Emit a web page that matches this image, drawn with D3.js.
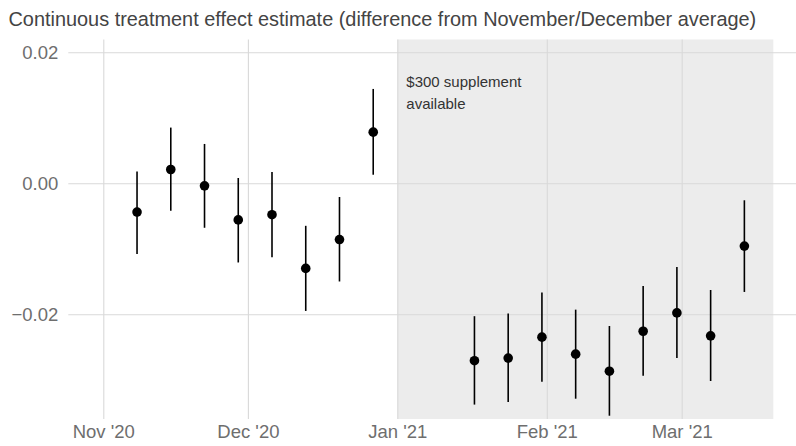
<!DOCTYPE html>
<html><head><meta charset="utf-8">
<script src="https://cdn.jsdelivr.net/npm/d3@7"></script>
<style>body{margin:0;background:#fff}svg{display:block}text{font-family:"Liberation Sans",Arial,sans-serif}</style>
</head><body><svg id="c" width="796" height="446"></svg>
<script>
const weeks = ["2020-11-08","2020-11-15","2020-11-22","2020-11-29","2020-12-06","2020-12-13","2020-12-20","2020-12-27",
  "2021-01-17","2021-01-24","2021-01-31","2021-02-07","2021-02-14","2021-02-21","2021-02-28","2021-03-07","2021-03-14"];
const estimate = [-0.0044,0.0021,-0.0004,-0.0056,-0.0048,-0.0130,-0.0086,0.0078,
  -0.0271,-0.0267,-0.0235,-0.0261,-0.0287,-0.0226,-0.0198,-0.0233,-0.0096];
const lower = [-0.0108,-0.0042,-0.0068,-0.0121,-0.0113,-0.0195,-0.0150,0.0013,
  -0.0338,-0.0334,-0.0303,-0.0329,-0.0355,-0.0294,-0.0267,-0.0302,-0.0166];
const upper = [0.0018,0.0085,0.0060,0.0008,0.0017,-0.0065,-0.0021,0.0144,
  -0.0203,-0.0199,-0.0167,-0.0193,-0.0218,-0.0157,-0.0128,-0.0163,-0.0026];
const xTicks = ["2020-11-01","2020-12-01","2021-01-01","2021-02-01","2021-03-01"];
const xTickLabels = ["Nov '20","Dec '20","Jan '21","Feb '21","Mar '21"];
const yTicks = [-0.02, 0.00, 0.02];
const shadeStart = "2021-01-01", shadeEnd = "2021-03-20";
const title = "Continuous treatment effect estimate (difference from November/December average)";
const annotation = ["$300 supplement", "available"];

const parse = d3.utcParse("%Y-%m-%d");
const DAY = 864e5;
const svg = d3.select("#c");
const L = 68.3, R = 796, T = 39.5, B = 419;
const x = d3.scaleUtc()
  .domain([new Date(parse("2020-11-01") - 7.26*DAY), new Date(+parse("2021-03-01") + 23.71*DAY)])
  .range([L, R]);
const y = d3.scaleLinear().domain([-0.036, 0.02195]).range([B, T]);

// shaded period
svg.append("rect").attr("x", x(parse(shadeStart))).attr("y", T)
  .attr("width", x(parse(shadeEnd)) - x(parse(shadeStart))).attr("height", B - T)
  .attr("fill", "#ececec");

// gridlines via axes
const gx = svg.append("g").attr("transform", `translate(0,${B})`)
  .call(d3.axisBottom(x).tickValues(xTicks.map(parse)).tickSize(-(B - T)).tickFormat((d, i) => xTickLabels[i]));
gx.select(".domain").remove();
gx.selectAll("line").attr("stroke", "#d9d9d9").attr("stroke-width", 1.1);
gx.selectAll("text").attr("fill", "#6e6e6e").attr("font-size", 18.5).attr("dy", 0).attr("y", 19);

const gy = svg.append("g").attr("transform", `translate(${L},0)`)
  .call(d3.axisLeft(y).tickValues(yTicks).tickSize(-(R - L)).tickFormat(d => d3.format(".2f")(d).replace("-", "\u2212")));
gy.select(".domain").remove();
gy.selectAll("line").attr("stroke", "#d9d9d9").attr("stroke-width", 1.1);
gy.selectAll("text").attr("fill", "#6e6e6e").attr("font-size", 18.5).attr("x", -10).attr("dy", "0.35em");

// error bars
const data = weeks.map((w, i) => ({d: parse(w), e: estimate[i], lo: lower[i], hi: upper[i]}));
svg.append("g").selectAll("line").data(data).join("line")
  .attr("x1", d => x(d.d)).attr("x2", d => x(d.d))
  .attr("y1", d => y(d.lo)).attr("y2", d => y(d.hi))
  .attr("stroke", "#000").attr("stroke-width", 1.6);
svg.append("g").selectAll("circle").data(data).join("circle")
  .attr("cx", d => x(d.d)).attr("cy", d => y(d.e)).attr("r", 4.8).attr("fill", "#000");

// annotation
const ann = svg.append("text").attr("x", x(parse(shadeStart)) + 9).attr("y", 87)
  .attr("font-size", 15).attr("fill", "#333");
annotation.forEach((t, i) => ann.append("tspan").attr("x", x(parse(shadeStart)) + 9).attr("dy", i ? 21.5 : 0).text(t));

// title
svg.append("text").attr("x", 8.5).attr("y", 25.7).attr("font-size", 19.9).attr("fill", "#444").text(title);
</script></body></html>
